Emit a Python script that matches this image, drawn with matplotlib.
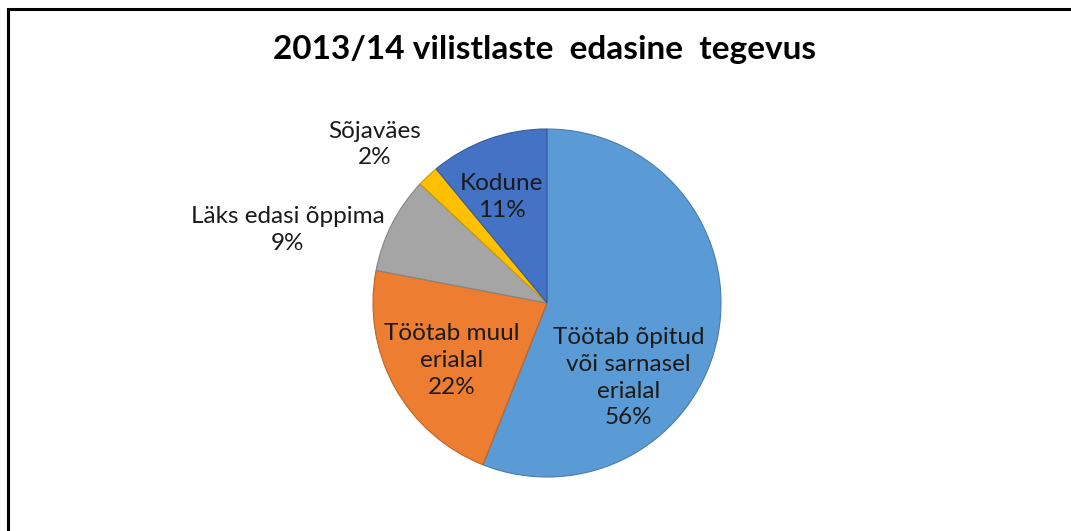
import matplotlib.pyplot as plt
from matplotlib.patches import Rectangle
import matplotlib.colors as mcolors

title = "2013/14 vilistlaste  edasine  tegevus"
labels = ["Töötab õpitud\nvõi sarnasel\nerialal", "Töötab muul\nerialal",
          "Läks edasi õppima", "Sõjaväes", "Kodune"]
values = [56, 22, 9, 2, 11]
colors = ["#5B9BD5", "#ED7D31", "#A5A5A5", "#FFC000", "#4472C4"]
# label anchor positions in pie-radius units (Excel "best fit")
label_pos = [(0.47, -0.43), (-0.55, -0.33), (-1.49, 0.42), (-0.99, 0.91), (-0.26, 0.61)]

plt.rcParams['font.family'] = ['Lato', 'DejaVu Sans']

W, H = 1071, 531
fig = plt.figure(figsize=(W / 100, H / 100), dpi=100)
ax = fig.add_axes([0, 0, 1, 1])

wedges, _ = ax.pie(values, colors=colors, startangle=90, counterclock=False,
                   radius=1.0)
for w, c in zip(wedges, colors):
    dark = [v * 0.8 for v in mcolors.to_rgb(c)]
    w.set_edgecolor(dark)
    w.set_linewidth(0.8)

for lab, v, (x, y) in zip(labels, values, label_pos):
    ax.text(x, y, f"{lab}\n{v}%", ha='center', va='center', fontsize=17.5,
            color='#1a1a1a', linespacing=1.33)

# map pie center to pixel (547, 303), radius 174 px
cx, cy, r = 547, 303, 174
ax.set_xlim(-cx / r, (W - cx) / r)
ax.set_ylim(-(H - cy) / r, cy / r)
ax.set_aspect('auto')
ax.axis('off')

fig.text(545 / W, 1 - 50 / H, title, ha='center', va='center',
         fontsize=24, fontweight='bold', color='black')

# chart frame (only left and top visible)
fig.patches.append(Rectangle((8 / W, -0.2), 1.2, 1.2 - 8.5 / H,
                             transform=fig.transFigure, fill=False,
                             edgecolor='black', linewidth=2.2))

fig.savefig("out.png", dpi=100)
